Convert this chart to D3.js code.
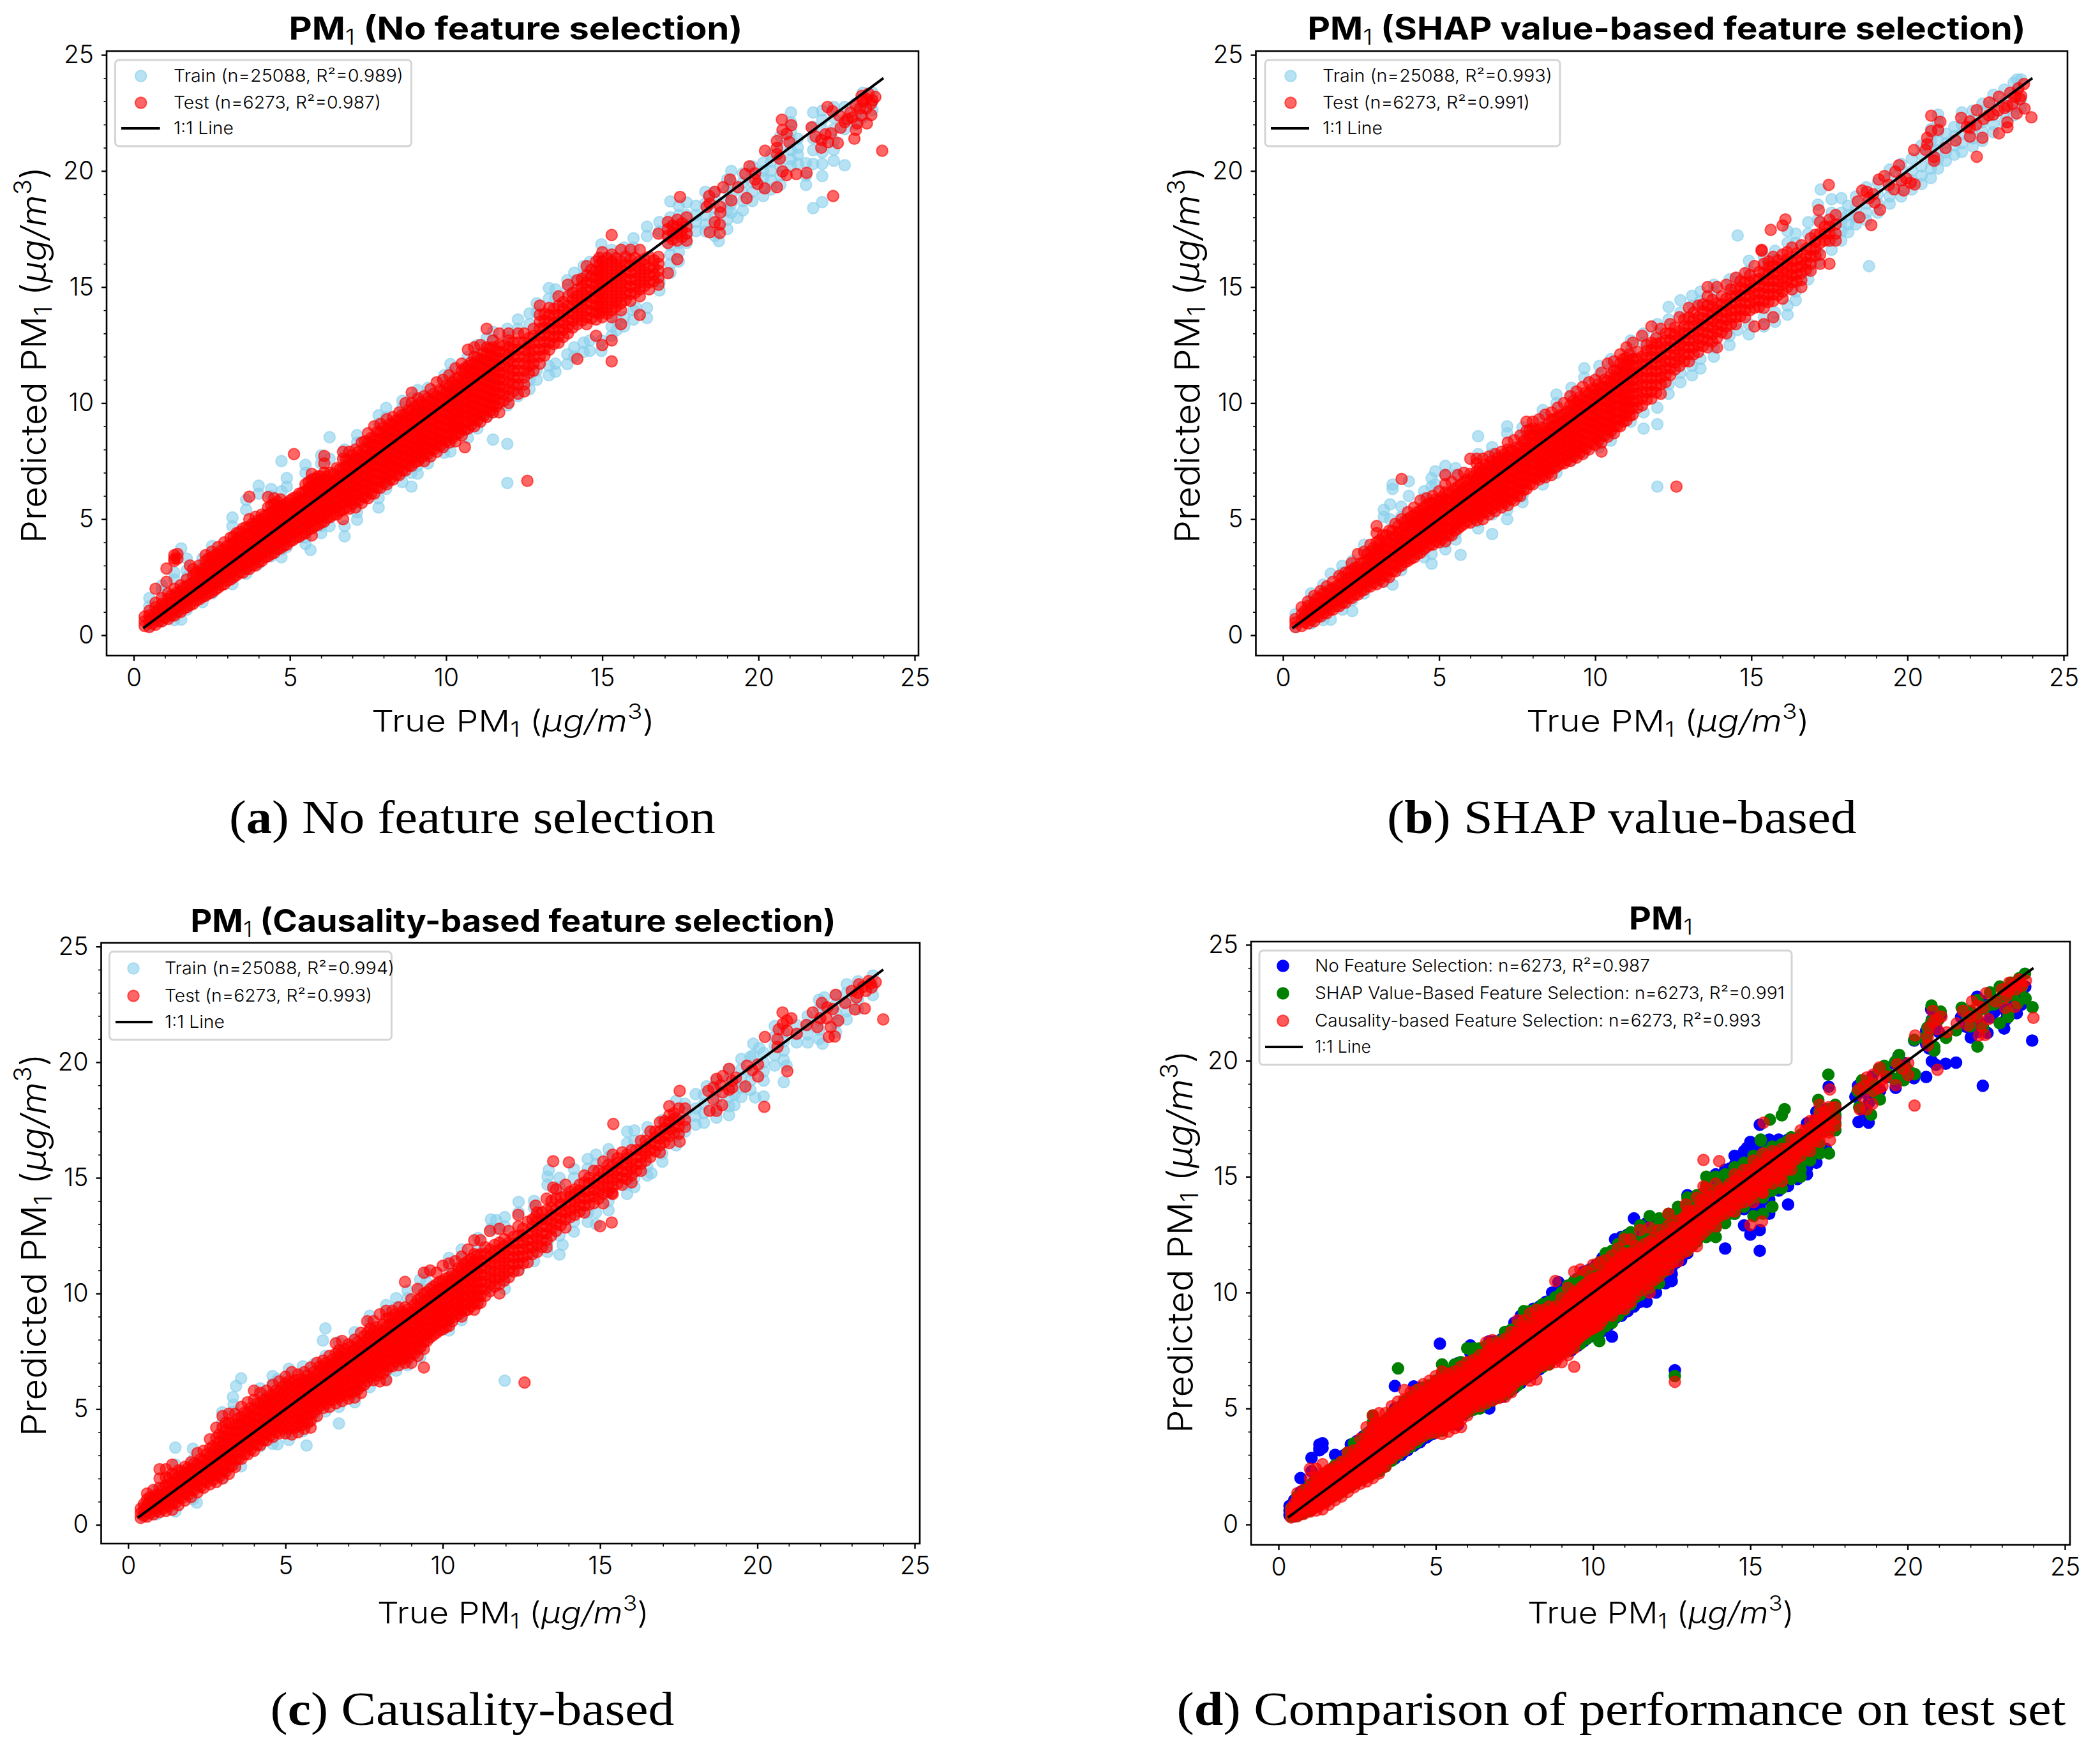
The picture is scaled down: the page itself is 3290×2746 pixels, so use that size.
<!DOCTYPE html>
<html><head><meta charset="utf-8">
<script src="https://cdn.jsdelivr.net/npm/d3@7/dist/d3.min.js"></script>
<style>html,body{margin:0;padding:0;background:#fff}svg{display:block}</style></head><body>
<svg id="c" width="3290" height="2746"></svg>
<script>
// Each row: [true value, predicted value, predicted value, ...].
const testA=[[12.6,6.65],[.35,.4,.6,.8],[.5,.35,.6,.85,1.05],[.7,.45,.7,.95,1.2,1.4,2],[.9,.6,.85,1.1,1.35,1.6],[1.05,2.3,2.87],[1.1,.7,.95,1.25,1.55,1.8],[1.3,.85,1.1,1.4,1.7,2,3.3,3.45,3.2],[1.4,3.3,3.5],[1.5,1,1.3,1.6,1.9,2.15],[1.7,1.2,1.5,1.8,2.1,2.4],[1.8,3],[1.9,1.35,1.65,1.95,2.25,2.55,2.85],[2.1,1.55,1.8,2.1,2.4,2.7,3],[2.3,1.7,2,2.3,2.6,2.9,3.2,3.45],[2.5,1.85,2.15,2.45,2.75,3.05,3.35,3.6],[2.7,2.05,2.3,2.6,2.9,3.2,3.5,3.8],[2.9,2.2,2.5,2.8,3.1,3.4,3.7,4],[3.1,2.4,2.7,3,3.3,3.6,3.9,4.2],[3.3,2.6,2.9,3.2,3.5,3.8,4.1,4.4],[3.5,2.7,3,3.3,3.6,3.9,4.2,4.6],[3.7,2.85,3.15,3.45,3.75,4.05,4.35,4.65,5,5.97],[3.9,3,3.3,3.6,3.9,4.2,4.5,4.8,5.1],[4.1,3.2,3.5,3.8,4.1,4.4,4.7,5,5.2],[4.3,3.4,3.7,4,4.3,4.6,4.9,5.2,5.5,5.95],[4.5,3.55,3.85,4.15,4.45,4.75,5.05,5.35,5.65,5.9],[4.7,3.75,4.05,4.35,4.65,4.95,5.25,5.55,5.85],[4.9,3.9,4.2,4.5,4.8,5.1,5.4,5.7],[5.13,7.8],[5.1,4.1,4.4,4.7,5,5.3,5.6,5.9],[5.3,4.25,4.55,4.85,5.15,5.45,5.75,6.1],[5.5,4.4,4.7,5,5.3,5.6,5.9,6.2,6.5],[5.7,4.3,4.6,4.9,5.2,5.5,5.8,6.1,6.4,6.7,6.95],[5.9,4.75,5.05,5.35,5.65,5.95,6.25,6.55,6.85],[6.1,4.9,5.2,5.5,5.8,6.1,6.4,6.7,7,7.4,7.72],[6.3,5.1,5.4,5.7,6,6.3,6.6,7],[6.5,5.2,5.5,5.8,6.1,6.4,6.7,7.2],[6.7,5,5.4,5.7,6,6.3,6.6,6.9,7.2,7.6,7.9],[6.9,5.45,5.75,6.05,6.35,6.65,6.95,7.25,7.55,7.9],[7.1,5.5,5.8,6.1,6.4,6.7,7,7.3,7.6,8],[7.3,5.7,6,6.3,6.6,6.9,7.2,7.5,7.8,8.3],[7.5,5.9,6.2,6.5,6.8,7.1,7.4,7.7,8,8.3,8.7],[7.7,6.1,6.4,6.7,7,7.3,7.6,7.9,8.2,8.5,9],[7.9,6.35,6.65,6.95,7.25,7.55,7.85,8.15,8.45,8.75,9.1],[8.1,6.5,6.8,7.1,7.4,7.7,8,8.3,8.6,8.9,9.3],[8.3,6.7,7,7.3,7.6,7.9,8.2,8.5,8.8,9.1,9.4],[8.5,6.9,7.2,7.5,7.8,8.1,8.4,8.7,9,9.3,9.6],[8.7,7.1,7.4,7.7,8,8.3,8.6,8.9,9.2,9.5,10],[8.9,7.3,7.6,7.9,8.2,8.5,8.8,9.1,9.4,9.7,10,10.45],[9.1,7.5,7.8,8.1,8.4,8.7,9,9.3,9.6,9.9,10.2],[9.3,7.5,7.8,8.1,8.4,8.7,9,9.3,9.6,9.9,10.3],[9.5,7.7,8,8.3,8.6,8.9,9.2,9.5,9.8,10.1,10.6],[9.7,7.9,8.2,8.5,8.8,9.1,9.4,9.7,10,10.3,10.9],[9.9,8.1,8.4,8.7,9,9.3,9.6,9.9,10.2,10.5,11],[10.1,8.3,8.6,8.9,9.2,9.5,9.8,10.1,10.4,10.7,11.2],[10.3,8.35,8.65,8.95,9.25,9.55,9.85,10.15,10.45,10.75,11.05,11.5],[10.5,8.6,8.9,9.2,9.5,9.8,10.1,10.4,10.7,11,11.4,11.7],[10.6,8.1],[10.7,8.9,9.2,9.5,9.8,10.1,10.4,10.7,11,11.3,11.6,12.3],[10.9,9,9.3,9.6,9.9,10.2,10.5,10.8,11.1,11.4,11.7,12,12.4],[11.1,9.2,9.5,9.8,10.1,10.4,10.7,11,11.3,11.6,11.9,12.5],[11.3,9.4,9.7,10,10.3,10.6,10.9,11.2,11.5,11.8,12.1,12.4,13.2],[11.5,9.6,9.9,10.2,10.5,10.8,11.1,11.4,11.7,12,12.4,12.7],[11.7,9.6,10,10.4,10.7,11,11.3,11.6,11.9,12.2,12.5,13],[12,10,10.3,10.6,10.9,11.2,11.5,11.8,12.1,12.4,12.7,13],[12.3,10.4,10.8,11.1,11.4,11.7,12,12.3,12.6,13],[12.5,10.5,10.8,11.1,11.4,11.7,12,12.3,12.6,13],[12.8,11.4,11.7,12,12.3,12.6,12.9,13.2],[13,11.7,12,12.3,12.6,12.9,13.2,13.5,13.8,14.2],[13.3,12.3,12.6,12.9,13.2,13.5,13.8,14.1],[13.6,12.6,12.9,13.2,13.5,13.8,14.2,14.6],[13.9,13,13.3,13.6,13.9,14.2,14.6,15.1],[14.2,11.9,13.4,13.7,14,14.3,14.6,14.9,15.3],[14.5,13.4,13.7,14,14.3,14.6,14.9,15.2,15.5,15.9],[14.8,12.9,13.6,13.9,14.2,14.5,14.8,15.1,15.4,15.7,16.1],[15,12.5,13.7,14,14.3,14.6,14.9,15.2,15.5,15.8,16.1,16.5],[15.3,11.8,12.7,13.7,14,14.3,14.6,14.9,15.2,15.5,15.8,16.1,16.4,17.24],[15.6,13.4,14,14.3,14.6,14.9,15.2,15.5,15.8,16.1,16.6],[15.9,14.4,14.7,15,15.3,15.6,15.9,16.2,16.6],[16.2,13.8,14.6,14.9,15.2,15.5,15.8,16.1,16.6],[16.5,14.9,15.2,15.5,15.8,16.3],[16.8,15.1,15.4,15.7,16,16.3,17.3],[17.1,15.6,16.9,17.2,17.5,17.8],[17.4,16.2,17,17.3,17.6,17.9],[17.7,17,17.3,17.6,18],[17.49,18.88],[18.42,18.92],[18.6,19.1,17.79],[18.87,19.3],[19.09,19.63],[19.13,18.73],[19.62,18.83],[18.78,18.45,18.21],[18.44,17.36,18.6],[18.76,17.33,17.69],[18.34,18.45],[19.71,20.2],[19.58,19.87],[19.89,19.63,19.9],[19.35,19.3],[19.97,19.44],[20.2,19.25],[20.59,19.3],[20.21,20.87],[20.75,22.21],[21.05,21.97],[20.77,21.77,19.98],[20.9,21.6,19.82],[20.59,21.29,21,20.72],[20.99,21.24],[20.68,20.53],[21.21,19.87],[21.54,19.92],[22.39,18.92],[23.96,20.87],[22.21,22.76],[22.37,22.57],[21.7,21.88],[21.83,21.48],[22.01,21.34,21],[22.14,21.58],[22.32,21.62],[22.23,21.24],[22.54,21.2],[22.59,22.38],[22.76,22.1],[22.63,21.86],[23.12,21.77,22.81],[23.07,21.39],[23.47,22.05],[23.61,22.41],[23.3,22.38,23.23],[22.94,22.52],[23.34,23],[23.65,23.04],[23.74,23.19],[23.52,23.33],[23.16,22.05],[22.85,22.24],[23.45,22.7,23.1],[23.25,22.7],[23.6,22.9],[23,22.3]];
const denseA=[[.6,.5,.75],[.8,.6,.85,1.1],[1,.75,1,1.3],[1.2,.85,1.1,1.4,1.7],[1.4,1,1.25,1.55,1.85],[1.6,1.15,1.45,1.75,2.05],[1.8,1.3,1.6,1.9,2.2],[2,1.5,1.8,2.1,2.4,2.7],[2.2,1.65,1.95,2.25,2.55,2.85],[2.4,1.8,2.1,2.4,2.7,3,3.3],[2.6,1.95,2.25,2.55,2.85,3.15,3.45],[2.8,2.15,2.45,2.75,3.05,3.35,3.65],[3,2.35,2.65,2.95,3.25,3.55,3.85],[3.2,2.5,2.8,3.1,3.4,3.7,4,4.25],[3.4,2.7,3,3.3,3.6,3.9,4.2,4.45],[3.6,2.85,3.15,3.45,3.75,4.05,4.35,4.65],[3.8,3,3.3,3.6,3.9,4.2,4.5,4.8],[4,3.15,3.45,3.75,4.05,4.35,4.65,4.95],[4.2,3.35,3.65,3.95,4.25,4.55,4.85,5.15],[4.4,3.5,3.8,4.1,4.4,4.7,5,5.3,5.6],[4.6,3.7,4,4.3,4.6,4.9,5.2,5.5,5.75],[4.8,3.85,4.15,4.45,4.75,5.05,5.35,5.6],[5,4.05,4.35,4.65,4.95,5.25,5.55,5.8],[5.2,4.2,4.5,4.8,5.1,5.4,5.7,5.95],[5.4,4.35,4.65,4.95,5.25,5.55,5.85,6.15],[5.6,4.55,4.85,5.15,5.45,5.75,6.05,6.35,6.6],[5.8,4.7,5,5.3,5.6,5.9,6.2,6.5,6.75],[6,4.85,5.15,5.45,5.75,6.05,6.35,6.65,6.85],[6.2,5.05,5.35,5.65,5.95,6.25,6.55,6.85],[6.4,5.2,5.5,5.8,6.1,6.4,6.7,6.95],[6.6,5.35,5.65,5.95,6.25,6.55,6.85,7.15],[6.8,5.5,5.8,6.1,6.4,6.7,7,7.3,7.55],[7,5.65,5.95,6.25,6.55,6.85,7.15,7.45,7.75],[7.2,5.8,6.1,6.4,6.7,7,7.3,7.6,7.9],[7.4,5.95,6.25,6.55,6.85,7.15,7.45,7.75,8.05,8.35],[7.6,6.1,6.4,6.7,7,7.3,7.6,7.9,8.2,8.5],[7.8,6.35,6.65,6.95,7.25,7.55,7.85,8.15,8.45,8.75],[8,6.55,6.85,7.15,7.45,7.75,8.05,8.35,8.65,8.95],[8.2,6.7,7,7.3,7.6,7.9,8.2,8.5,8.8,9.1],[8.4,6.9,7.2,7.5,7.8,8.1,8.4,8.7,9,9.25],[8.6,7.1,7.4,7.7,8,8.3,8.6,8.9,9.2,9.5],[8.8,7.3,7.6,7.9,8.2,8.5,8.8,9.1,9.4,9.7],[9,7.45,7.75,8.05,8.35,8.65,8.95,9.25,9.55,9.85],[9.2,7.65,7.95,8.25,8.55,8.85,9.15,9.45,9.75,10.05],[9.4,7.8,8.1,8.4,8.7,9,9.3,9.6,9.9,10.2],[9.6,8,8.3,8.6,8.9,9.2,9.5,9.8,10.1,10.4],[9.8,8.15,8.45,8.75,9.05,9.35,9.65,9.95,10.25,10.55],[10,8.35,8.65,8.95,9.25,9.55,9.85,10.15,10.45,10.75],[10.2,8.5,8.8,9.1,9.4,9.7,10,10.3,10.6,10.9],[10.4,8.7,9,9.3,9.6,9.9,10.2,10.5,10.8,11.1],[10.6,8.85,9.15,9.45,9.75,10.05,10.35,10.65,10.95,11.25,11.5],[10.8,9.05,9.35,9.65,9.95,10.25,10.55,10.85,11.15,11.45,11.75],[11,9.25,9.55,9.85,10.15,10.45,10.75,11.05,11.35,11.65,11.95],[11.2,9.45,9.75,10.05,10.35,10.65,10.95,11.25,11.55,11.85,12.15],[11.4,9.65,9.95,10.25,10.55,10.85,11.15,11.45,11.75,12.05,12.35],[11.6,9.85,10.15,10.45,10.75,11.05,11.35,11.65,11.95,12.25],[11.85,10.1,10.4,10.7,11,11.3,11.6,11.9,12.2,12.5],[12.15,10.5,10.8,11.1,11.4,11.7,12,12.3,12.6],[12.65,11.3,11.6,11.9,12.2,12.5,12.8],[13.15,12.05,12.35,12.65,12.95,13.25,13.55,13.85],[13.45,12.55,12.85,13.15,13.45,13.75,14.05],[13.75,12.85,13.15,13.45,13.75,14.05,14.35],[14.05,13.25,13.55,13.85,14.15,14.45,14.75],[14.35,13.55,13.85,14.15,14.45,14.75,15.05,15.35],[14.65,13.65,13.95,14.25,14.55,14.85,15.15,15.45,15.75],[14.9,13.85,14.15,14.45,14.75,15.05,15.35,15.65,15.95,16.25],[15.15,13.85,14.15,14.45,14.75,15.05,15.35,15.65,15.95,16.25],[15.45,14.15,14.45,14.75,15.05,15.35,15.65,15.95,16.25],[15.75,14.45,14.75,15.05,15.35,15.65,15.95,16.3],[16.05,14.75,15.05,15.35,15.65,15.95,16.25],[16.35,15.05,15.35,15.65,15.95,16.2],[16.65,15.25,15.55,15.85,16.15],[17.25,17.05,17.35,17.65],[17.55,17.15,17.45,17.75]];
const trainA=[[.5,.4,.65,1.25,1.6],[.9,.6,.85,1.9,2.15],[1.3,.65,.9,2.4,2.7],[1.52,.67,3.74],[1.7,1.1,1.35,2.5,2.8,3.3],[2.2,1.42,1.7,3,3.3],[2.51,1.8,2.1,3.5,3.84],[3.16,2.2,2.5,4.7,5.07],[3.6,2.65,2.95,5.4,5.83],[4,3.08,3.35,6.1,6.44],[4.4,3.4,3.7,6,6.3],[4.73,3.36,3.7,6.2,7.5],[4.9,3.8,6.4,6.77],[5.5,3.93,4.2,7,7.34],[5.66,3.67],[6,4.4,4.7,7.4,7.75],[6.27,4.7,7.6,8.53],[6.75,4.26,4.7,7.7,8],[7.15,4.97,5.3,8.3,8.62],[7.84,5.5,5.9,9.1,9.47],[8.08,6.3,6.6,9.4,9.79],[8.6,6.6,7,9.8,10.1],[8.89,6.4,7,10.2],[9.09,6.96,7.3,10.2,10.56],[9.42,7.4,7.7,10.3,10.66],[9.94,7.86,8.2,10.9,11.2],[10.14,7.91,8.3,11.3,11.68],[10.7,8.5,8.9,11.6,12],[11,8.9,9.3,12.1,12.5],[11.3,9.43,9.8,12.4,12.8],[11.5,8.43,9.6,12.7,13.07],[11.96,6.56,8.24,9.9,10.3,12.8,13.2],[12.3,10.3,10.7,13.2,13.6],[12.67,10.6,11,13.4,13.86],[12.9,11,11.4,13.9,14.3],[13.29,11.2,11.6,14.5,14.95],[13.5,11.35,11.7,14.5,14.9],[13.88,11.68,12.1,14.9,15.3],[14.1,12,12.4,15.2,15.61],[14.4,12.2,12.6,15.5,15.9],[14.6,12.25,12.7,15.7,16.08],[14.97,12.25,12.7,16.3,16.84],[15.3,12.9,13.3,16.2,16.6],[15.46,13.15,13.6],[15.7,13.3,13.7,16.3,16.7],[16,13.6,14,16.7,17.1],[16.08,14.1],[16.43,13.67,14.1,17.2,17.6],[16.83,14.85,15.2,17.4,17.8],[17.18,15.61,16,16.4,16.8,17.2,17.6,18,18.69],[17.45,16.1,16.5,16.9,17.3,17.7,18.1,18.5],[17.7,16.9,17.3,17.7,18.1,18.64],[18,17.41,17.8,18.1,18.5],[18.3,17.4,17.7,18.1,18.6,19.1],[18.6,17.2,17.6,18,18.4,18.8,19.1],[18.73,16.98],[19,17.5,17.9,18.3,18.7,19.2,19.63],[19.13,18.2,18.6,19,19.5,20],[19.33,17.98],[19.5,18.3,18.7,19.1,19.5,19.9],[19.8,18.7,19.1,19.5,19.9,20.2],[20.15,18.92,19.3,19.7,20,20.35],[20.4,19.2,19.6,20,20.4,20.7],[20.7,19.4,19.8,20.2,20.6,21,21.5],[21.04,20.2,20.5,20.9,21.3,21.7,22.1,22.52],[21.26,20.3,20.7,21,21.39],[21.52,19.4,19.8,20.34],[21.75,18.4,20.3,20.9,21.4,21.9,22.52],[22.04,18.66,19.78,20.3,20.8,21.3,21.8,22.2,22.6],[22.41,20.44,20.91,21.3,21.8,22.3,22.76],[22.76,20.25,21.8,22.2,22.76],[23.1,22,22.4,22.9],[23.34,22.3,22.7,23.37],[23.65,22.62,23,23.37]];
const testB=[[12.6,6.4],[.4,.35,.55,.7],[.6,.4,.65,.9,1.2],[.8,.5,.75,1,1.25,1.45],[1,.6,.85,1.1,1.4,1.7],[1.2,.8,1.05,1.3,1.6,1.9],[1.4,.95,1.2,1.5,1.8,2.1],[1.6,1.1,1.4,1.7,2,2.3],[1.8,1.25,1.55,1.85,2.15,2.55],[2,1.4,1.7,2,2.3,2.7],[2.2,1.6,1.9,2.2,2.5,2.8,3.1],[2.4,1.75,2.05,2.35,2.65,2.95,3.5],[2.6,1.95,2.25,2.55,2.85,3.15,3.6],[2.8,2.1,2.4,2.7,3,3.3,3.6,3.9],[3,2.2,2.5,2.8,3.1,3.4,3.7,4,4.4,4.7],[3.2,2.3,2.6,2.9,3.2,3.5,3.8,4.3],[3.4,2.5,2.8,3.1,3.4,3.7,4,4.5],[3.6,2.75,3.05,3.35,3.65,3.95,4.25,4.8],[3.8,3,3.3,3.6,3.9,4.2,4.5,5,6.73],[4,3.2,3.5,3.8,4.1,4.4,4.7,5,5.3],[4.2,3.35,3.65,3.95,4.25,4.55,4.85,5.15,5.5],[4.4,3.55,3.85,4.15,4.45,4.75,5.05,5.35,5.8],[4.6,3.8,4.1,4.4,4.7,5,5.3,5.6,5.9],[4.8,3.9,4.2,4.5,4.8,5.1,5.4,5.7,6],[5,4,4.3,4.6,4.9,5.2,5.5,5.8,6.2],[5.2,4.05,4.35,4.65,4.95,5.25,5.55,5.85,6.15,6.5,6.9],[5.4,4.3,4.6,4.9,5.2,5.5,5.8,6.1,6.6],[5.6,4.6,4.9,5.2,5.5,5.8,6.1,6.4,6.9],[5.8,4.8,5.1,5.4,5.7,6,6.3,6.6,7],[6,4.85,5.15,5.45,5.75,6.05,6.35,6.65,6.95,7.6],[6.2,4.95,5.25,5.55,5.85,6.15,6.45,6.75,7.05,7.4,7.6],[6.4,5,5.3,5.6,5.9,6.2,6.5,6.8,7.1,7.6],[6.6,5.2,5.5,5.8,6.1,6.4,6.7,7,7.3,7.7],[6.8,5.35,5.65,5.95,6.25,6.55,6.85,7.15,7.45,7.8],[7,5.5,5.8,6.1,6.4,6.7,7,7.3,7.6,7.9],[7.2,5.6,5.9,6.2,6.5,6.8,7.1,7.4,7.7,8,8.3],[7.4,5.8,6.1,6.4,6.7,7,7.3,7.6,7.9,8.4],[7.6,6,6.3,6.6,6.9,7.2,7.5,7.8,8.1,8.6],[7.8,6.3,6.6,6.9,7.2,7.5,7.8,8.1,8.4,8.8,9.2],[8,6.5,6.8,7.1,7.4,7.7,8,8.3,8.6,8.9,9.2],[8.2,6.7,7,7.3,7.6,7.9,8.2,8.5,8.8,9.3],[8.4,6.8,7.1,7.4,7.7,8,8.3,8.6,8.9,9.5],[8.6,6.9,7.2,7.5,7.8,8.1,8.4,8.7,9,9.3,9.6],[8.8,7.3,7.6,7.9,8.2,8.5,8.8,9.1,9.4,9.8],[9,7.4,7.7,8,8.3,8.6,8.9,9.2,9.5,10],[9.2,7.5,7.8,8.1,8.4,8.7,9,9.3,9.6,9.9,10.3],[9.4,7.65,7.95,8.25,8.55,8.85,9.15,9.45,9.75,10.05,10.5],[9.6,7.8,8.1,8.4,8.7,9,9.3,9.6,9.9,10.2,10.7],[9.8,8,8.3,8.6,8.9,9.2,9.5,9.8,10.1,10.4,10.9],[10,8.2,8.5,8.8,9.1,9.4,9.7,10,10.3,10.6,11],[10.2,7.91,8.3,8.6,8.9,9.2,9.5,9.8,10.1,10.4,10.7,11.3],[10.4,8.55,8.85,9.15,9.45,9.75,10.05,10.35,10.65,10.95,11.7],[10.6,8.7,9,9.3,9.6,9.9,10.2,10.5,10.8,11.1,11.4,11.8],[10.8,9,9.3,9.6,9.9,10.2,10.5,10.8,11.1,11.4,11.7,12.1],[11,9.25,9.55,9.85,10.15,10.45,10.75,11.05,11.35,11.65,11.95,12.4],[11.2,9.5,9.8,10.1,10.4,10.7,11,11.3,11.6,11.9,12.6],[11.5,9.9,10.2,10.5,10.8,11.1,11.4,11.7,12,12.9],[11.8,10.2,10.5,10.8,11.1,11.4,11.7,12,12.3,12.6,13.3],[12.1,10.4,10.8,11.1,11.4,11.7,12,12.3,12.6,13.2],[12.4,11.2,11.5,11.8,12.1,12.4,12.7,13,13.4],[12.7,11.6,11.9,12.2,12.5,12.8,13.1,13.7],[13,11.8,12.1,12.4,12.7,13,13.3,13.7,14.1],[13.3,12.2,12.5,12.8,13.1,13.4,13.7,14.2],[13.6,12.4,12.7,13,13.3,13.6,13.9,14.2,14.6,15],[13.9,12.4,12.8,13.1,13.4,13.7,14,14.3,15],[14.2,13,13.3,13.6,13.9,14.2,14.5,15.1],[14.5,13.4,13.7,14,14.3,14.6,14.9,15.4],[14.8,13.7,14,14.3,14.6,14.9,15.2,15.6],[15.1,13.3,14.1,14.4,14.7,15,15.3,15.9],[15.33,16.56,16.6],[15.4,13.4,14.1,14.4,14.7,15,15.3,15.6,16],[15.62,17.46],[15.7,13.7,14.4,14.7,15,15.3,15.6,15.9,16.3],[16,14.5,14.8,15.1,15.4,15.7,16,16.4,17.65],[16.09,17.91],[16.3,14.9,15.2,15.5,15.8,16.1,16.7],[16.6,15,15.3,15.6,15.9,16.2,16.8],[16.9,15.7,16,16.3,16.6,17.1],[17.16,18.31],[17.2,16,16.4,16.9,17.3,17.8],[17.48,19.4],[17.5,16,17,17.3,17.6,17.9],[17.7,17,17.3,17.7,18.1],[18.46,18],[18.84,17.67],[19.12,18.33],[18.41,18.69],[18.55,19.16],[18.77,18.83],[18.95,18.64],[19.08,19.63],[19.26,19.78],[19.57,19.21],[19.88,19.16],[20.23,19.42],[19.61,19.97],[19.73,20.25],[19.96,19.68],[20.1,19.49],[18.7,19.1],[18.9,19],[19.4,19.4],[19.8,19.6],[20.21,20.9],[20.76,22.38,21.72],[21.05,22.12],[20.98,21.77],[20.63,21.43,21.15],[20.58,20.91],[20.85,20.44,20.6],[21.22,20.99],[21.54,21.31],[22.22,20.61,22.62],[21.72,22.29],[22,21.48,21.86,22.14],[22.4,21.43],[22.44,22.24],[22.75,22.43],[22.62,22.95],[22.93,23.2,21.62],[23.2,22.1,21.88],[23.5,22.48],[23.75,22.69],[23.97,22.31],[23.29,23.37],[23.55,23.56],[23.73,23.75],[23.64,23.23],[23.37,22.9],[23.11,22.71],[21.9,21.9],[22.2,22],[22.6,22.4],[22.9,22.6],[23.2,22.8],[23.45,23.2],[23.6,23.1]];
const denseB=[[.7,.55,.8,1.05],[.9,.65,.9,1.2],[1.1,.8,1.05,1.35,1.6],[1.3,.95,1.2,1.5,1.8],[1.5,1.1,1.35,1.65,1.95],[1.7,1.25,1.5,1.8,2.1],[1.9,1.4,1.65,1.95,2.25,2.5],[2.1,1.6,1.85,2.15,2.45,2.7],[2.3,1.75,2,2.3,2.6,2.9],[2.5,1.9,2.2,2.5,2.8,3.1],[2.7,2.1,2.35,2.65,2.95,3.25,3.5],[2.9,2.25,2.55,2.85,3.15,3.45,3.75],[3.1,2.4,2.7,3,3.3,3.6,3.9,4.1],[3.3,2.55,2.85,3.15,3.45,3.75,4.05,4.3],[3.5,2.75,3.05,3.35,3.65,3.95,4.25,4.5],[3.7,2.95,3.25,3.55,3.85,4.15,4.45,4.7],[3.9,3.15,3.45,3.75,4.05,4.35,4.65,4.9],[4.1,3.3,3.6,3.9,4.2,4.5,4.8,5.1],[4.3,3.5,3.8,4.1,4.4,4.7,5,5.3],[4.5,3.7,4,4.3,4.6,4.9,5.2,5.5],[4.7,3.9,4.2,4.5,4.8,5.1,5.4,5.7],[4.9,4.05,4.35,4.65,4.95,5.25,5.55,5.85],[5.1,4.15,4.45,4.75,5.05,5.35,5.65,5.95],[5.3,4.3,4.6,4.9,5.2,5.5,5.8,6.1],[5.5,4.5,4.8,5.1,5.4,5.7,6,6.3],[5.7,4.7,5,5.3,5.6,5.9,6.2,6.5],[5.9,4.9,5.2,5.5,5.8,6.1,6.4,6.7],[6.1,5.05,5.35,5.65,5.95,6.25,6.55,6.85],[6.3,5.15,5.45,5.75,6.05,6.35,6.65,6.95,7.2],[6.5,5.3,5.6,5.9,6.2,6.5,6.8,7.1,7.35],[6.7,5.45,5.75,6.05,6.35,6.65,6.95,7.25,7.5],[6.9,5.6,5.9,6.2,6.5,6.8,7.1,7.4,7.65],[7.1,5.7,6,6.3,6.6,6.9,7.2,7.5,7.8],[7.3,5.85,6.15,6.45,6.75,7.05,7.35,7.65,7.95],[7.5,6,6.3,6.6,6.9,7.2,7.5,7.8,8.1],[7.7,6.25,6.55,6.85,7.15,7.45,7.75,8.05,8.35],[7.9,6.5,6.8,7.1,7.4,7.7,8,8.3,8.6,8.85],[8.1,6.75,7.05,7.35,7.65,7.95,8.25,8.55,8.85],[8.3,6.85,7.15,7.45,7.75,8.05,8.35,8.65,8.95],[8.5,7,7.3,7.6,7.9,8.2,8.5,8.8,9.1],[8.7,7.2,7.5,7.8,8.1,8.4,8.7,9,9.3],[8.9,7.4,7.7,8,8.3,8.6,8.9,9.2,9.5],[9.1,7.55,7.85,8.15,8.45,8.75,9.05,9.35,9.65],[9.3,7.7,8,8.3,8.6,8.9,9.2,9.5,9.8,10.1],[9.5,7.85,8.15,8.45,8.75,9.05,9.35,9.65,9.95,10.25],[9.7,8.05,8.35,8.65,8.95,9.25,9.55,9.85,10.15,10.45],[9.9,8.25,8.55,8.85,9.15,9.45,9.75,10.05,10.35,10.6],[10.1,8.4,8.7,9,9.3,9.6,9.9,10.2,10.5,10.8],[10.3,8.6,8.9,9.2,9.5,9.8,10.1,10.4,10.7,11],[10.5,8.8,9.1,9.4,9.7,10,10.3,10.6,10.9,11.2],[10.7,9,9.3,9.6,9.9,10.2,10.5,10.8,11.1,11.4],[10.9,9.2,9.5,9.8,10.1,10.4,10.7,11,11.3,11.6,11.9],[11.1,9.45,9.75,10.05,10.35,10.65,10.95,11.25,11.55,11.85,12.1],[11.35,9.8,10.1,10.4,10.7,11,11.3,11.6,11.9,12.2],[11.65,10.15,10.45,10.75,11.05,11.35,11.65,11.95,12.25,12.5],[11.95,10.45,10.75,11.05,11.35,11.65,11.95,12.25,12.55,12.8],[12.25,10.9,11.2,11.5,11.8,12.1,12.4,12.7,13],[12.55,11.45,11.75,12.05,12.35,12.65,12.95,13.25],[12.85,11.8,12.1,12.4,12.7,13,13.3,13.6],[13.15,12.1,12.4,12.7,13,13.3,13.6,13.9],[13.45,12.45,12.75,13.05,13.35,13.65,13.95,14.25],[13.75,12.65,12.95,13.25,13.55,13.85,14.15,14.45],[14.05,13.05,13.35,13.65,13.95,14.25,14.6],[14.35,13.4,13.7,14,14.3,14.6,14.9],[14.65,13.75,14.05,14.35,14.65,14.95,15.25],[14.95,14,14.3,14.6,14.9,15.2,15.5],[15.25,14.15,14.45,14.75,15.05,15.35,15.65],[15.55,14.35,14.65,14.95,15.25,15.55,15.85,16.1],[15.85,14.65,14.95,15.25,15.55,15.85,16.15],[16.15,15,15.3,15.6,15.9,16.2,16.5],[16.45,15.25,15.55,15.85,16.15,16.45],[16.75,15.75,16.05,16.35,16.65],[17.05,16.35,16.65,16.95,17.25],[17.35,17,17.3,17.6]];
const trainB=[[.4,.35,.9],[.9,.5,.7,1.5,1.8],[1.29,.65,.85,1.9,2.18],[1.53,.67,2.65],[1.9,1.1,1.35,2.7,2.99],[2.22,1.04,1.5,3,3.2],[2.6,1.8,2.1,3.5,3.9],[3.23,2.3,2.6,5.1,5.4],[3.43,5.64,5],[3.51,2.18,6.3,6.49],[3.79,2.8,3.1,5.54,5.1],[4.03,6.63,6],[4.52,3.36,3.7,5.9,6.2],[4.76,3.08,3.5,6.4,6.77],[4.88,7.06,6.5],[5.2,3.7,4,6.9,7.3],[5.53,4.12,4.4,6.9,7.2],[5.69,3.46],[6.25,4.6,4.9,7.8,8.57],[6.7,4.36,5.2,7.8,8.1],[7.18,5,5.4,8.7,9],[7.67,5.73,6,8.6,8.95],[8.32,6.49,6.8,9.4,9.7],[8.76,7,7.3,10,10.37],[9.24,7.53,7.8,10.3,10.66],[9.65,7.9,8.2,11.1,11.5],[10.13,8.1,8.4,11.2,11.6],[10.5,8.38,8.7,11.5,11.9],[11.14,9.2,9.71,12.3,12.7],[11.55,8.9,9.6,12.6,13],[11.99,6.4,9.09,9.8,13,13.4],[12.35,10.4,10.8,13.6,14.14],[12.73,10.9,11.3,13.9,14.43],[13.1,11.2,11.6,14.2,14.62],[13.37,11.49,11.9,14.4,14.8],[13.8,12,12.4,14.8,15.1],[14.3,12.5,12.9,14.9,15.33],[14.56,13.15,15.4,17.22],[14.92,12.96,13.4,15.7,16.13],[15.4,13.3,13.7,15.9,16.3],[15.76,13.5,13.9,16.2,16.56],[16.16,13.81,14.2,16.9,17.41],[16.42,14.43,14.8,16.9,17.3],[16.82,15.33,15.7,17.3,17.79],[17.13,16.08,16.5,17.9,18.55],[17.22,19.2],[17.57,16.6,17,17.4,17.8,18.2,18.78],[17.88,17,17.4,17.8,18.2,18.83],[18.1,17.36,17.7,18.1,18.5],[18.35,17.7,18,18.4,18.9],[18.68,17.88,18.2,18.6,19.3],[18.77,15.9],[19.05,18.2,18.6,19,19.5],[19.43,18.59,18.9,19.3,19.7,20.06],[19.8,18.9,19.2,19.6,20,20.3],[20.14,19.2,19.6,20,20.53],[20.45,19.44,19.8,20.2,20.7,21.1],[20.75,19.7,20.1,20.5,20.9,21.3,21.8],[20.98,20.1,20.5,20.9,21.3,21.7,22.1,22.43],[21.23,20.44,20.8,21.2,21.6],[21.5,20.7,21.1,21.5,21.9],[21.74,20.82,21.2,21.6,22,22.52],[22.09,21.05,21.4,21.8,22.2,22.6],[22.4,21.3,21.7,22.1,22.6,22.9],[22.75,21.67,22,22.4,22.9,23.28],[23.1,22.1,22.5,23,23.5],[23.4,22.4,22.8,23.3,23.8],[23.51,23.94,23.5],[23.64,22.71,23.1,23.94]];
const testC=[[12.6,6.15],[.4,.3,.5,.7],[.6,.35,.6,.85,1.1,1.35],[.8,.45,.7,.95,1.2,1.5],[1,.55,.8,1.05,1.3,1.6,2,2.4],[1.2,.6,.85,1.1,1.4,1.7,2.05,2.4],[1.4,.65,.95,1.25,1.55,1.85,2.2,2.6],[1.6,.85,1.15,1.45,1.75,2.05,2.35],[1.8,1.05,1.35,1.65,1.95,2.25,2.5],[2,1.2,1.5,1.8,2.1,2.4,2.7],[2.2,1.4,1.7,2,2.3,2.6,3.1],[2.4,1.6,1.9,2.2,2.5,2.8,3.2],[2.6,1.75,2.05,2.35,2.65,2.95,3.3,3.7],[2.8,1.85,2.15,2.45,2.75,3.05,3.35,3.75,4.2],[3,2,2.3,2.6,2.9,3.2,3.5,3.8,4.2,4.7],[3.2,2.2,2.5,2.8,3.1,3.4,3.7,4,4.4,4.8],[3.4,2.5,2.8,3.1,3.4,3.7,4,4.3,4.8],[3.6,2.85,3.15,3.45,3.75,4.05,4.35,4.65,5.1],[3.8,3.05,3.35,3.65,3.95,4.25,4.55,4.85,5.3],[4,3.2,3.5,3.8,4.1,4.4,4.7,5,5.4,5.8],[4.2,3.45,3.75,4.05,4.35,4.65,4.95,5.25,5.7],[4.4,3.65,3.95,4.25,4.55,4.85,5.15,5.45,5.8],[4.6,3.8,4.1,4.4,4.7,5,5.3,5.6,6.05],[4.8,3.95,4.25,4.55,4.85,5.15,5.45,5.75,6.2],[5,3.95,4.3,4.6,4.9,5.2,5.5,5.8,6.1,6.4],[5.2,3.9,4.25,4.6,4.9,5.2,5.5,5.8,6.1,6.6],[5.4,4,4.3,4.6,4.9,5.2,5.5,5.8,6.1,6.5],[5.6,4.15,4.45,4.75,5.05,5.35,5.65,5.95,6.25,6.6],[5.8,4.2,4.5,4.8,5.1,5.4,5.7,6,6.3,6.8],[6,4.7,5,5.3,5.6,5.9,6.2,6.5,7],[6.2,5.05,5.35,5.65,5.95,6.25,6.55,6.85,7.1],[6.4,5.1,5.4,5.7,6,6.3,6.6,6.9,7.3],[6.6,5.25,5.55,5.85,6.15,6.45,6.75,7.05,7.4,7.85],[6.8,5.35,5.65,5.95,6.25,6.55,6.85,7.15,7.45,7.95],[7,5.45,5.75,6.05,6.35,6.65,6.95,7.25,7.8],[7.2,5.5,5.8,6.1,6.4,6.7,7,7.3,7.6,8],[7.4,5.7,6,6.3,6.6,6.9,7.2,7.5,7.8,8.3],[7.6,6.2,6.5,6.8,7.1,7.4,7.7,8,8.3,8.8],[7.8,6.25,6.55,6.85,7.15,7.45,7.75,8.05,8.35,8.8],[8,6.2,6.6,6.9,7.2,7.5,7.8,8.1,8.4,9.1],[8.2,6.25,6.7,7,7.3,7.6,7.9,8.2,8.5,8.9,9.25],[8.4,6.85,7.15,7.45,7.75,8.05,8.35,8.65,8.95,9.25],[8.6,6.9,7.2,7.5,7.8,8.1,8.4,8.7,9,9.4],[8.8,7,7.3,7.6,7.9,8.2,8.5,8.8,9.1,9.4,10.5],[9,7,7.4,7.7,8,8.3,8.6,8.9,9.2,9.75],[9.2,7.3,7.6,7.9,8.2,8.5,8.8,9.1,9.4,9.7,10.2],[9.4,6.8,7.6,7.9,8.2,8.5,8.8,9.1,9.4,9.7,10,10.9],[9.6,8.1,8.4,8.7,9,9.3,9.6,9.9,10.2,11],[9.8,8.3,8.6,8.9,9.2,9.5,9.8,10.1,10.4,10.9],[10,8.45,8.75,9.05,9.35,9.65,9.95,10.25,10.55,11.2],[10.2,8.6,8.9,9.2,9.5,9.8,10.1,10.4,10.7,11.3],[10.4,9,9.3,9.6,9.9,10.2,10.5,10.8,11.4],[10.6,9,9.3,9.6,9.9,10.2,10.5,10.8,11.1,11.6],[10.8,9.3,9.6,9.9,10.2,10.5,10.8,11.1,11.4,11.9],[11,9.3,9.6,9.9,10.2,10.5,10.8,11.1,11.4,11.7,12.3],[11.2,9.6,9.9,10.2,10.5,10.8,11.1,11.4,11.7,12.3],[11.5,10.1,10.4,10.7,11,11.3,11.6,11.9,12.7],[11.8,10,10.4,10.7,11,11.3,11.6,11.9,12.2,12.8],[12.1,10.7,11,11.3,11.6,11.9,12.2,12.7],[12.4,11,11.3,11.6,11.9,12.2,12.5,12.9,13.4],[12.7,11.35,11.7,12,12.3,12.6,13.1],[12.95,13.3,13.8],[13,11.8,12.1,12.4,12.7,13.1,13.5],[13.3,12,12.3,12.6,12.9,13.2,13.6,14.1],[13.51,14.58,15.72],[13.6,12.7,13,13.3,13.6,14.1,14.5],[13.9,12.85,13.2,13.5,13.8,14.2,14.7],[14.01,15.67],[14.2,13.4,13.7,14,14.3,14.5],[14.5,13.5,13.8,14.1,14.4,14.8,15.1],[14.8,13.9,14.2,14.5,14.8,15.3],[15,12.91],[15.1,13.9,14.3,14.6,14.9,15.2,15.7],[15.37,13.07,14.34],[15.42,17.33],[15.4,14.3,14.6,14.9,15.2,15.5,16],[15.7,14.7,15,15.3,15.6,16.1],[16,14.8,15.1,15.4,15.7,16.2],[16.3,15.3,15.6,15.9,16.2,16.6],[16.6,15.9,16.2,16.5,17],[16.9,16.1,16.4,16.7,17,17.4],[17.2,16.5,16.8,17.1,17.4,17.7,18.1],[17.53,18.76,16.57],[17.5,16.9,17.2,17.5,18],[17.7,17.2,17.5,18],[18.44,18.76],[18.7,19.28,17.9],[18.83,19],[19.1,19.71,18.81],[18.88,18.14],[18.48,17.9],[19.32,19.33],[19.62,18.95],[19.67,19.85],[20.02,19.9,19.38],[19.84,19.66],[20.22,18.07],[20.95,19.61],[18.6,18.9,18.4],[18.9,19.4,18.7],[19.2,19.2,18.9],[20.24,21.09],[20.8,22.15],[21.08,21.9],[20.81,21.66],[20.68,21.42],[20.94,21.37,21.8],[21.25,21.23],[20.64,20.66,21],[21.56,21.61],[21.76,22.15],[21.91,21.52],[22.27,21.09],[22.46,21.11],[22.33,21.52],[22.57,21.8],[22.22,22.37],[22.49,22.91],[22.79,22.56],[23.1,22.28],[23.41,22.32],[23,23.08],[23.23,23.37],[23.54,23.51],[23.76,23.46],[23.45,23.08],[23.15,22.8],[23.63,23.23],[24,21.85],[22.05,22.56],[22,21.9],[22.2,21.9],[22.4,22.3],[23.2,23],[23.35,23.25],[23.6,23.4]];
const denseC=[[.5,.4,.65,.9],[.7,.5,.75,1,1.2],[.9,.6,.85,1.1,1.3],[1.1,.7,.95,1.25,1.55],[1.3,.8,1.1,1.4,1.7,2],[1.5,.95,1.25,1.55,1.85,2.15],[1.7,1.15,1.45,1.75,2.05,2.3],[1.9,1.3,1.6,1.9,2.2,2.45],[2.1,1.5,1.8,2.1,2.4,2.65],[2.3,1.65,1.95,2.25,2.55,2.85],[2.5,1.85,2.15,2.45,2.75,3.05],[2.7,1.95,2.25,2.55,2.85,3.15,3.4],[2.9,2.1,2.4,2.7,3,3.3,3.6,3.9],[3.1,2.3,2.6,2.9,3.2,3.5,3.8,4.1,4.4],[3.3,2.55,2.85,3.15,3.45,3.75,4.05,4.35],[3.5,2.85,3.15,3.45,3.75,4.05,4.35,4.6],[3.7,3.05,3.35,3.65,3.95,4.25,4.55,4.85],[3.9,3.25,3.55,3.85,4.15,4.45,4.75,5.05],[4.1,3.45,3.75,4.05,4.35,4.65,4.95,5.25],[4.3,3.65,3.95,4.25,4.55,4.85,5.15,5.4],[4.5,3.85,4.15,4.45,4.75,5.05,5.35,5.6],[4.7,4,4.3,4.6,4.9,5.2,5.5,5.8],[4.9,4.15,4.45,4.75,5.05,5.35,5.65,5.95],[5.1,4.15,4.45,4.75,5.05,5.35,5.65,5.95,6.2],[5.3,4.2,4.5,4.8,5.1,5.4,5.7,6,6.25],[5.5,4.3,4.6,4.9,5.2,5.5,5.8,6.1,6.3],[5.7,4.4,4.7,5,5.3,5.6,5.9,6.2,6.45],[5.9,4.85,5.15,5.45,5.75,6.05,6.35,6.6],[6.1,5.15,5.45,5.75,6.05,6.35,6.65,6.85],[6.3,5.25,5.55,5.85,6.15,6.45,6.75,7],[6.5,5.4,5.7,6,6.3,6.6,6.9,7.15],[6.7,5.5,5.8,6.1,6.4,6.7,7,7.3,7.55],[6.9,5.6,5.9,6.2,6.5,6.8,7.1,7.4,7.6],[7.1,5.7,6,6.3,6.6,6.9,7.2,7.5,7.7],[7.3,5.85,6.15,6.45,6.75,7.05,7.35,7.65,7.9],[7.5,6.05,6.35,6.65,6.95,7.25,7.55,7.85,8.15],[7.7,6.4,6.7,7,7.3,7.6,7.9,8.2,8.5],[7.9,6.45,6.75,7.05,7.35,7.65,7.95,8.25,8.55],[8.1,6.55,6.85,7.15,7.45,7.75,8.05,8.35,8.65],[8.3,6.85,7.15,7.45,7.75,8.05,8.35,8.65,8.95],[8.5,7.05,7.35,7.65,7.95,8.25,8.55,8.85,9.1],[8.7,7.15,7.45,7.75,8.05,8.35,8.65,8.95,9.2],[8.9,7.2,7.5,7.8,8.1,8.4,8.7,9,9.3],[9.1,7.4,7.7,8,8.3,8.6,8.9,9.2,9.5],[9.3,7.7,8,8.3,8.6,8.9,9.2,9.5,9.8],[9.5,7.95,8.25,8.55,8.85,9.15,9.45,9.75,10.05],[9.7,8.2,8.5,8.8,9.1,9.4,9.7,10,10.3],[9.9,8.4,8.7,9,9.3,9.6,9.9,10.2,10.5],[10.1,8.55,8.85,9.15,9.45,9.75,10.05,10.35,10.65],[10.3,8.8,9.1,9.4,9.7,10,10.3,10.6,10.85],[10.5,9.1,9.4,9.7,10,10.3,10.6,10.9,11.1],[10.7,9.25,9.55,9.85,10.15,10.45,10.75,11.05,11.3],[10.9,9.45,9.75,10.05,10.35,10.65,10.95,11.25,11.5],[11.1,9.55,9.85,10.15,10.45,10.75,11.05,11.35,11.65],[11.35,9.9,10.2,10.5,10.8,11.1,11.4,11.7,12],[11.65,10.3,10.6,10.9,11.2,11.5,11.8,12.1],[11.95,10.55,10.85,11.15,11.45,11.75,12.05,12.35],[12.25,10.95,11.25,11.55,11.85,12.15,12.45],[12.55,11.3,11.6,11.9,12.2,12.5,12.8],[12.85,11.7,12,12.3,12.6,12.9,13.2],[13.15,12,12.3,12.6,12.9,13.2,13.5],[13.45,12.5,12.8,13.1,13.4,13.7,14],[13.75,12.95,13.25,13.55,13.85,14.15],[14.05,13.3,13.6,13.9,14.2,14.4],[14.35,13.55,13.85,14.15,14.45,14.7],[14.65,13.85,14.15,14.45,14.75,15],[14.95,14.1,14.4,14.7,15,15.3],[15.25,14.4,14.7,15,15.3,15.55],[15.55,14.75,15.05,15.35,15.65,15.85],[15.85,14.95,15.25,15.55,15.85,16],[16.15,15.3,15.6,15.9,16.2],[16.45,15.75,16.05,16.35,16.6],[16.75,16.15,16.45,16.75,17],[17.05,16.55,16.85,17.15,17.45],[17.35,16.95,17.25,17.55,17.8]];
const trainC=[[.5,.35,.8],[.9,.45,1.5],[1.5,.58,3.34,1.2,2.6],[2.06,1.1,3.29,2.8],[2.18,.96],[2.99,2,2.3,4.4,4.86],[3.35,2.6,5.19,4.9],[3.33,5.52],[3.43,6,2.7],[3.59,2.53,6.33],[4.2,3.4,3.7,5.5,5.9],[4.59,3.5,6.43,6.1],[4.75,3.48,5.9,6.3],[5.11,3.67,3.95,6.4,6.75],[5.55,4.05,6.5,6.85],[5.67,3.43],[5.91,4.67,6.95,6.6],[6.19,7.97],[6.27,8.49,4.9,7.3],[6.7,4.38,5.1,7.5,7.9],[7.2,5.3,5.7,8,8.33],[7.68,5.95,6.3,8.7,9.04],[8.2,6.3,6.6,9.1,9.5],[8.52,6.66,7,9.4,9.8],[8.88,6.9,7.3,9.8,10.13],[9.28,7.23,7.6,10.2,10.6],[9.48,8.04,8.3,10.5,10.9],[10.2,8.4,8.8,11.2,11.54],[10.6,8.85,9.2,11.5,11.9],[11.12,9.7,10,12,12.4],[11.53,10.27,10.6,12.8,13.2],[11.7,13.17,12.8],[11.97,6.23,10.2,10.6,12.9,13.3],[12.41,11,11.4,13.5,13.96],[12.9,11.4,11.8,13.7,14],[13.33,11.8,12.2,14.7,15.05],[13.37,15.34],[13.71,11.68,12.5,14.6,15],[13.81,12.1],[14.17,12.67,13.1,15,15.38],[14.61,13.1,13.5,15.4,15.81],[14.87,13,13.5,15.6,16],[15.27,13.6,14,15.9,16.24],[15.86,14.3,14.7,16.5,17],[16.09,14.6,15,16.6,17.05],[16.5,15.1,15.5,16.8,17.19],[16.63,15.2],[16.98,15.7,16.05,17.1,17.5],[17.42,16.4,16.8,17.6,18.33],[17.7,17,17.4,17.8,18.2],[18.04,17.3,17.67,18,18.62],[18.3,17.38,17.8,18.2,18.6],[18.39,18.96],[18.7,17.6,18,18.4,18.8,19.2],[19.1,17.71,18.1,18.5,18.9,19.3,19.7],[19.27,18.14,18.6,19],[19.49,18.5,18.9,19.3,19.7,20.14],[19.78,18.8,19.2,19.6,20.23],[19.87,20.8,20.3],[19.93,18.47],[20.2,18.52,19.2,19.6,20,20.4],[20.06,20.61],[20.55,19.85,20.3,20.7,21.1,21.56],[20.84,19.14,20.1,20.5,20.9,21.3],[20.93,19.85],[21.25,20.85,21.2,21.6],[21.6,20.85,21.2,21.6,22],[21.96,21,21.4,21.8,22.3,22.7],[22.07,20.8],[22.13,22.8,22.4],[22.5,21.3,21.7,22.1,22.5,22.9],[22.84,21.85,22.2,22.6,23,23.37],[23.2,22.3,22.7,23.1,23.5],[23.67,22.9,23.3,23.75]];
const oneToOne=[.3,24];
const majorTicks=[0,5,10,15,20,25];
const minorTicks=[1,2,3,4,6,7,8,9,11,12,13,14,16,17,18,19,21,22,23,24];
const trainLabels=['Train (n=25088, R²=0.989)','Train (n=25088, R²=0.993)','Train (n=25088, R²=0.994)'];
const testLabels=['Test (n=6273, R²=0.987)','Test (n=6273, R²=0.991)','Test (n=6273, R²=0.993)'];
const compareLabels=['No Feature Selection: n=6273, R²=0.987','SHAP Value-Based Feature Selection: n=6273, R²=0.991','Causality-based Feature Selection: n=6273, R²=0.993','1:1 Line'];
const titleTails=[' (No feature selection)',' (SHAP value-based feature selection)',' (Causality-based feature selection)',''];
const captionLetters=['a','b','c','d'];
const captionTexts=[' No feature selection',' SHAP value-based',' Causality-based',' Comparison of performance on test set'];

const SANS='Inter, "Open Sans", sans-serif', SERIF='"Liberation Serif", serif';
const SKY='#87ceeb', RED='#ff0000', BLUE='#0000ff', GREEN='#008000';
const svg=d3.select('#c');
const pts=rows=>rows.flatMap(r=>r.slice(1).map(y=>[r[0],y]));

const layout=[
 {l:167,r:1439,t:80,b:1027,x0:209.5,x25:1433,y0:995,y25:86,
  title:{cx:808,y:62,w:711},xl:{cx:804,y:1146,w:444},yl:{x:72,cy:556,w:590},cap:{cx:740,y:1305,w:762},
  leg:{x:180.5,y:94,w:464,h:135,mx:220.7,lx:[190,250.6],tx:272,ys:[119,161,201]}},
 {l:1967.5,r:3239,t:80,b:1027,x0:2010,x25:3233,y0:995,y25:86,
  title:{cx:2611,y:62,w:1125},xl:{cx:2613,y:1146,w:444},yl:{x:1879,cy:556,w:590},cap:{cx:2541,y:1305,w:736},
  leg:{x:1982,y:94,w:462,h:135,mx:2022,lx:[1991,2051],tx:2072,ys:[119,161,201]}},
 {l:158.5,r:1441,t:1477,b:2418,x0:200.8,x25:1433,y0:2388.5,y25:1482.7,
  title:{cx:804,y:1460,w:1011},xl:{cx:804,y:2543,w:426},yl:{x:72,cy:1950,w:600},cap:{cx:740,y:2702,w:633},
  leg:{x:171.4,y:1490.7,w:442,h:138,mx:209,lx:[181,239],tx:258,ys:[1517,1560,1601]}},
 {l:1960,r:3243,t:1475,b:2420,x0:2003,x25:3235,y0:2388,y25:1480,
  title:{cx:2602,y:1456,w:100},xl:{cx:2602,y:2543,w:418},yl:{x:1868,cy:1945,w:600},cap:{cx:2540,y:2702,w:1393},
  leg:{x:1973,y:1489,w:834,h:179,mx:2010,lx:[1982,2041],tx:2060,ys:[1513,1556,1599,1640]}}
];
const widths=[[360,325,94],[360,325,94],[360,325,94],[525,736,699,88]];

function labelRuns(t,fs,runs){
  runs.forEach(r=>{
    const ts=t.append('tspan').text(r.s).attr('font-size',fs*(r.k||1));
    if(r.dy) ts.attr('dy',fs*r.dy);
    if(r.it) ts.attr('font-style','italic');
    if(r.w) ts.attr('font-weight',r.w);
  });
}
const unitRuns=(w)=>[{s:'PM',w},{s:'1',k:.7,dy:.16,w},{s:' (',dy:-.16,w},{s:'μg/m',it:1,w},{s:'3',k:.7,dy:-.42,w},{s:')',dy:.42,w}];

function centered(x,y,w,fs,runs,weight,family,rot){
  const g=svg.append('g');
  const t=g.append('text').attr('font-family',family||SANS).attr('font-size',fs).attr('font-weight',weight||300).attr('fill','#000');
  labelRuns(t,fs,runs);
  const lw=t.node().getComputedTextLength();
  const s=w/lw;
  t.attr('x',-lw/2);
  g.attr('transform',`translate(${x},${y})${rot?' rotate(-90)':''} scale(${s},1)`);
  return g;
}
function legendText(x,y,w,s){
  const t=svg.append('text').attr('font-family',SANS).attr('font-size',27).attr('font-weight',300).attr('fill','#000').text(s);
  const k=w/t.node().getComputedTextLength();
  t.attr('transform',`translate(${x},${y+8.5}) scale(${k},1)`);
}
function dot(sel,rows,color,op,x,y){
  sel.append('g').selectAll('circle').data(pts(rows)).join('circle')
   .attr('cx',d=>x(d[0])).attr('cy',d=>y(d[1])).attr('r',8.8)
   .attr('fill',color).attr('fill-opacity',op).attr('stroke',color).attr('stroke-opacity',op).attr('stroke-width',2);
}

layout.forEach((L,i)=>{
  const x=d3.scaleLinear().domain([0,25]).range([L.x0,L.x25]);
  const y=d3.scaleLinear().domain([0,25]).range([L.y0,L.y25]);
  const plot=svg.append('g');
  const tests=[testA.concat(denseA),testB.concat(denseB),testC.concat(denseC)];
  if(i<3){
    dot(plot,[trainA,trainB,trainC][i],SKY,.6,x,y);
    dot(plot,tests[i],RED,.6,x,y);
  }else{
    dot(plot,tests[0],BLUE,1,x,y);
    dot(plot,tests[1],GREEN,1,x,y);
    dot(plot,tests[2],RED,.65,x,y);
  }
  plot.append('path').attr('d',d3.line().x(d=>x(d)).y(d=>y(d))(oneToOne)).attr('stroke','#000').attr('stroke-width',4).attr('fill','none');
  // frame
  svg.append('rect').attr('x',L.l).attr('y',L.t).attr('width',L.r-L.l).attr('height',L.b-L.t).attr('fill','none').attr('stroke','#000').attr('stroke-width',2.6);
  // axes
  const ax=svg.append('g').attr('transform',`translate(0,${L.b})`).call(d3.axisBottom(x).tickValues(majorTicks).tickSize(8).tickPadding(12).tickFormat(d3.format('d')));
  const ay=svg.append('g').attr('transform',`translate(${L.l},0)`).call(d3.axisLeft(y).tickValues(majorTicks).tickSize(8).tickPadding(12).tickFormat(d3.format('d')));
  [ax,ay].forEach(a=>{a.select('.domain').remove();a.selectAll('line').attr('stroke','#000').attr('stroke-width',2.4);
    a.selectAll('text').attr('font-family',SANS).attr('font-size',39).attr('font-weight',300).attr('fill','#000');});
  const mx=svg.append('g').attr('transform',`translate(0,${L.b})`).call(d3.axisBottom(x).tickValues(minorTicks).tickSize(4.5).tickFormat(''));
  const my=svg.append('g').attr('transform',`translate(${L.l},0)`).call(d3.axisLeft(y).tickValues(minorTicks).tickSize(4.5).tickFormat(''));
  [mx,my].forEach(a=>{a.select('.domain').remove();a.selectAll('line').attr('stroke','#000').attr('stroke-width',1.6);});
  // titles and labels
  centered(L.title.cx,L.title.y,L.title.w,49,[{s:'PM',w:700},{s:'1',k:.7,dy:.16,w:300},{s:titleTails[i],dy:-.16,w:700}],700);
  centered(L.xl.cx,L.xl.y,L.xl.w,47,unitRuns(300).map((r,j)=>j==0?{...r,s:'True PM'}:r));
  centered(L.yl.x,L.yl.cy,L.yl.w,54,unitRuns(300).map((r,j)=>j==0?{...r,s:'Predicted PM'}:r),300,SANS,true);
  centered(L.cap.cx,L.cap.y,L.cap.w,74,[{s:'('},{s:captionLetters[i],w:700},{s:')'+captionTexts[i]}],400,SERIF);
  // legend
  const g=L.leg;
  svg.append('rect').attr('x',g.x).attr('y',g.y).attr('width',g.w).attr('height',g.h).attr('rx',6).attr('fill','#fff').attr('fill-opacity',.8).attr('stroke','#d4d4d4').attr('stroke-width',3);
  const leg=i<3?[trainLabels[i],testLabels[i],'1:1 Line']:compareLabels;
  const marks=i<3?[[SKY,.6],[RED,.6]]:[[BLUE,1],[GREEN,1],[RED,.65]];
  marks.forEach((m,j)=>svg.append('circle').attr('cx',g.mx).attr('cy',g.ys[j]).attr('r',8.8).attr('fill',m[0]).attr('fill-opacity',m[1]).attr('stroke',m[0]).attr('stroke-opacity',m[1]).attr('stroke-width',2));
  const ly=g.ys[g.ys.length-1];
  svg.append('line').attr('x1',g.lx[0]).attr('x2',g.lx[1]).attr('y1',ly).attr('y2',ly).attr('stroke','#000').attr('stroke-width',4);
  leg.forEach((s,j)=>legendText(g.tx,g.ys[j],widths[i][j],s));
});
</script></body></html>
